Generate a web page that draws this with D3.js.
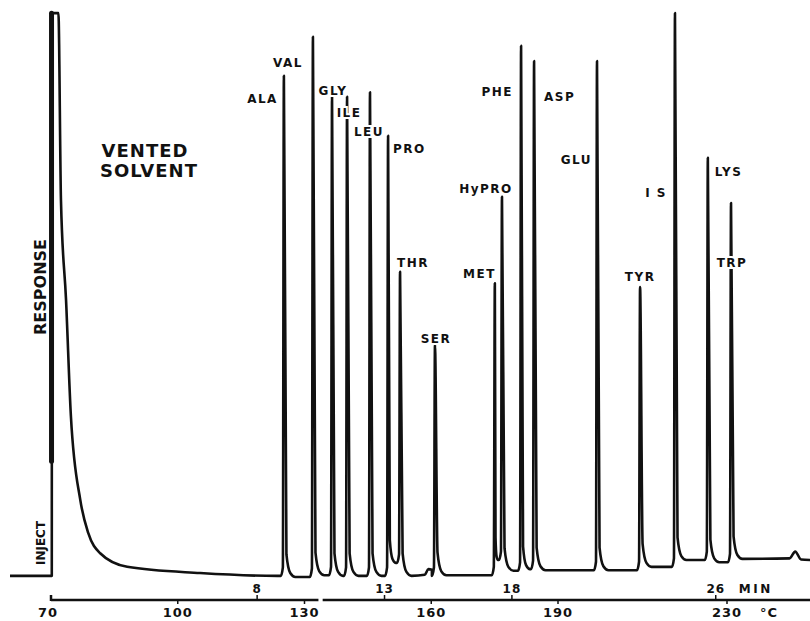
<!DOCTYPE html>
<html>
<head>
<meta charset="utf-8">
<script src="https://cdn.jsdelivr.net/npm/d3@7"></script>
<style>
  body { margin: 0; background: #fff; }
  svg { display: block; }
  text { font-family: "DejaVu Sans", sans-serif; font-weight: bold; fill: #111; }
</style>
</head>
<body>
<div id="chart"></div>
<script>
// Values (time in min, response in % of full scale)
const peakNames = ["ALA", "VAL", "GLY", "ILE", "LEU", "PRO", "THR", "SER", "MET",
  "HyPRO", "PHE", "ASP", "GLU", "TYR", "I S", "LYS", "TRP"];
const peakTimes = [9.05, 10.19, 10.94, 11.53, 12.43, 13.14, 13.61, 14.98, 17.33,
  17.61, 18.36, 18.87, 21.34, 23.03, 24.40, 25.69, 26.60];
const peakHeights = [88.7, 95.6, 85.0, 85.0, 85.8, 78.1, 54.0, 41.1, 52.0,
  67.3, 94.0, 91.3, 91.3, 51.3, 99.8, 74.2, 66.2];
// level of the valley that follows each peak
const valleyLevels = [0, 0.3, 0.2, 0.2, 0.2, 2.5, 0.2, 0.3, 3.0,
  1.1, 1.4, 1.2, 1.2, 1.8, 3.0, 2.6, 3.2];

const solventTrace = [[-1.7, 0.2], [-0.06, 0.2], [-0.05, 99.8], [0.2, 99.8], [0.3, 66.7],
  [0.5, 49], [0.69, 28.5], [1.06, 13.6], [1.37, 7.8], [1.84, 4.2], [2.9, 1.8],
  [5.76, 0.7], [8.8, 0.2]];
const solventEdge = [[-0.07, 20.5], [-0.07, 99.8]];
const baselineBumps = [[14.58, 0.4], [14.72, 1.4], [14.86, 1.3],
  [28.9, 3.3], [29.12, 4.5], [29.35, 3.1], [29.7, 3.0]];

const timeTicks = [8, 13, 18, 26];
const tempTicks = [70, 100, 130, 160, 190, 230];
const tempAxisSegments = [[70, 133.3], [134.3, 250]];

// label placement relative to each apex (layout only)
const labelLayout = [
  ["end", -6, 27], ["end", -10, 30], ["middle", 1, -2], ["middle", 2, 20],
  ["middle", -1, 44], ["start", 5, 17], ["start", -3, -5], ["middle", 1, -2],
  ["end", 1, -5], ["middle", -16, -4], ["end", -8, 50], ["start", 10, 40],
  ["end", -5, 103], ["middle", 0, -6], ["end", -8, 184], ["start", 7, 18],
  ["middle", 1, 64]
];

const width = 810, height = 621;
const axisY = 600;

const svg = d3.select("#chart")
  .append("svg")
    .attr("width", width)
    .attr("height", height);

const x = d3.scaleLinear().domain([-1.7, 29.7]).range([10, 810]);
const tempX = d3.scaleLinear().domain([70, 230]).range([51, 727]);
const y = d3.scaleLinear().domain([0, 100]).range([577, 12]);

// Build the trace: solvent, then each peak drawn as a sharp spike with a
// short tail, its feet resting on the valley levels
const peakPts = [];
peakTimes.forEach((t, i) => {
  const before = i === 0 ? solventTrace[solventTrace.length - 1][1] : valleyLevels[i - 1];
  const after = valleyLevels[i];
  const next = i < peakTimes.length - 1 ? peakTimes[i + 1] : Infinity;
  const f = Math.min(1, (next - t - 0.16) / 0.45); // squeeze tail between close peaks
  peakPts.push(
    [t - 0.12, before], [t - 0.04, before + 1.5], [t, peakHeights[i]],
    [t + 0.1 * f, after + 4], [t + 0.25 * f, after + 0.7], [t + 0.45 * f, after]
  );
});
const trace = [...solventTrace, ...peakPts, ...baselineBumps].sort((a, b) => a[0] - b[0]);

const line = d3.line()
  .x(d => x(d[0]))
  .y(d => y(d[1]))
  .curve(d3.curveMonotoneX);

svg.append("path")
  .datum(trace)
  .attr("fill", "none")
  .attr("stroke", "#111")
  .attr("stroke-width", 2.6)
  .attr("stroke-linejoin", "round")
  .attr("d", line);

// heavy pen stroke on the rising solvent edge
svg.append("path")
  .datum(solventEdge)
  .attr("fill", "none")
  .attr("stroke", "#111")
  .attr("stroke-width", 5)
  .attr("stroke-linecap", "round")
  .attr("d", d3.line().x(d => x(d[0])).y(d => y(d[1])));

// Peak labels
svg.append("g")
  .selectAll("text")
  .data(peakNames)
  .join("text")
    .attr("x", (d, i) => x(peakTimes[i]) + labelLayout[i][1])
    .attr("y", (d, i) => y(peakHeights[i]) + labelLayout[i][2])
    .attr("text-anchor", (d, i) => labelLayout[i][0])
    .style("font-size", "12px")
    .style("letter-spacing", "1.5px")
    .style("stroke", "#fff")
    .style("stroke-width", 4)
    .style("paint-order", "stroke")
    .text(d => d);

// Annotations
svg.append("text")
  .attr("x", 145).attr("y", 157)
  .attr("text-anchor", "middle")
  .style("font-size", "18px")
  .style("letter-spacing", "1px")
  .text("VENTED");
svg.append("text")
  .attr("x", 149).attr("y", 177)
  .attr("text-anchor", "middle")
  .style("font-size", "18px")
  .style("letter-spacing", "1px")
  .text("SOLVENT");

svg.append("text")
  .attr("transform", "translate(46,287) rotate(-90)")
  .attr("text-anchor", "middle")
  .style("font-size", "16px")
  .text("RESPONSE");

svg.append("text")
  .attr("transform", "translate(45,543) rotate(-90)")
  .attr("text-anchor", "middle")
  .style("font-size", "12px")
  .text("INJECT");

// Combined time / temperature axis
const axis = svg.append("g");
axis.selectAll("line.seg")
  .data(tempAxisSegments)
  .join("line")
    .attr("class", "seg")
    .attr("x1", d => tempX(d[0]))
    .attr("x2", d => tempX(d[1]))
    .attr("y1", axisY)
    .attr("y2", axisY)
    .attr("stroke", "#111")
    .attr("stroke-width", 2.5);

axis.append("line")
  .attr("x1", tempX(70)).attr("x2", tempX(70))
  .attr("y1", axisY + 1).attr("y2", axisY - 5)
  .attr("stroke", "#111")
  .attr("stroke-width", 2.5);

axis.selectAll("line.tt")
  .data(timeTicks)
  .join("line")
    .attr("class", "tt")
    .attr("x1", d => x(d)).attr("x2", d => x(d))
    .attr("y1", axisY).attr("y2", axisY - 5)
    .attr("stroke", "#111")
    .attr("stroke-width", 1.5);

axis.selectAll("text.tl")
  .data(timeTicks)
  .join("text")
    .attr("class", "tl")
    .attr("x", d => x(d))
    .attr("y", 593)
    .attr("text-anchor", "middle")
    .style("font-size", "12px")
    .style("letter-spacing", "1px")
    .text(d => d);

axis.append("text")
  .attr("x", x(26) + 23)
  .attr("y", 593)
  .style("font-size", "12px")
  .style("letter-spacing", "2.5px")
  .text("MIN");

axis.selectAll("line.pt")
  .data(tempTicks.slice(1))
  .join("line")
    .attr("class", "pt")
    .attr("x1", d => tempX(d)).attr("x2", d => tempX(d))
    .attr("y1", axisY).attr("y2", axisY + 4)
    .attr("stroke", "#111")
    .attr("stroke-width", 1.5);

axis.selectAll("text.pl")
  .data(tempTicks)
  .join("text")
    .attr("class", "pl")
    .attr("x", d => tempX(d) + (d === 70 ? -3 : 0))
    .attr("y", 617)
    .attr("text-anchor", "middle")
    .style("font-size", "13px")
    .style("letter-spacing", "1px")
    .text(d => d);

axis.append("text")
  .attr("x", tempX(230) + 33)
  .attr("y", 617)
  .style("font-size", "13px")
  .style("letter-spacing", "1px")
  .text("°C");
</script>
</body>
</html>
